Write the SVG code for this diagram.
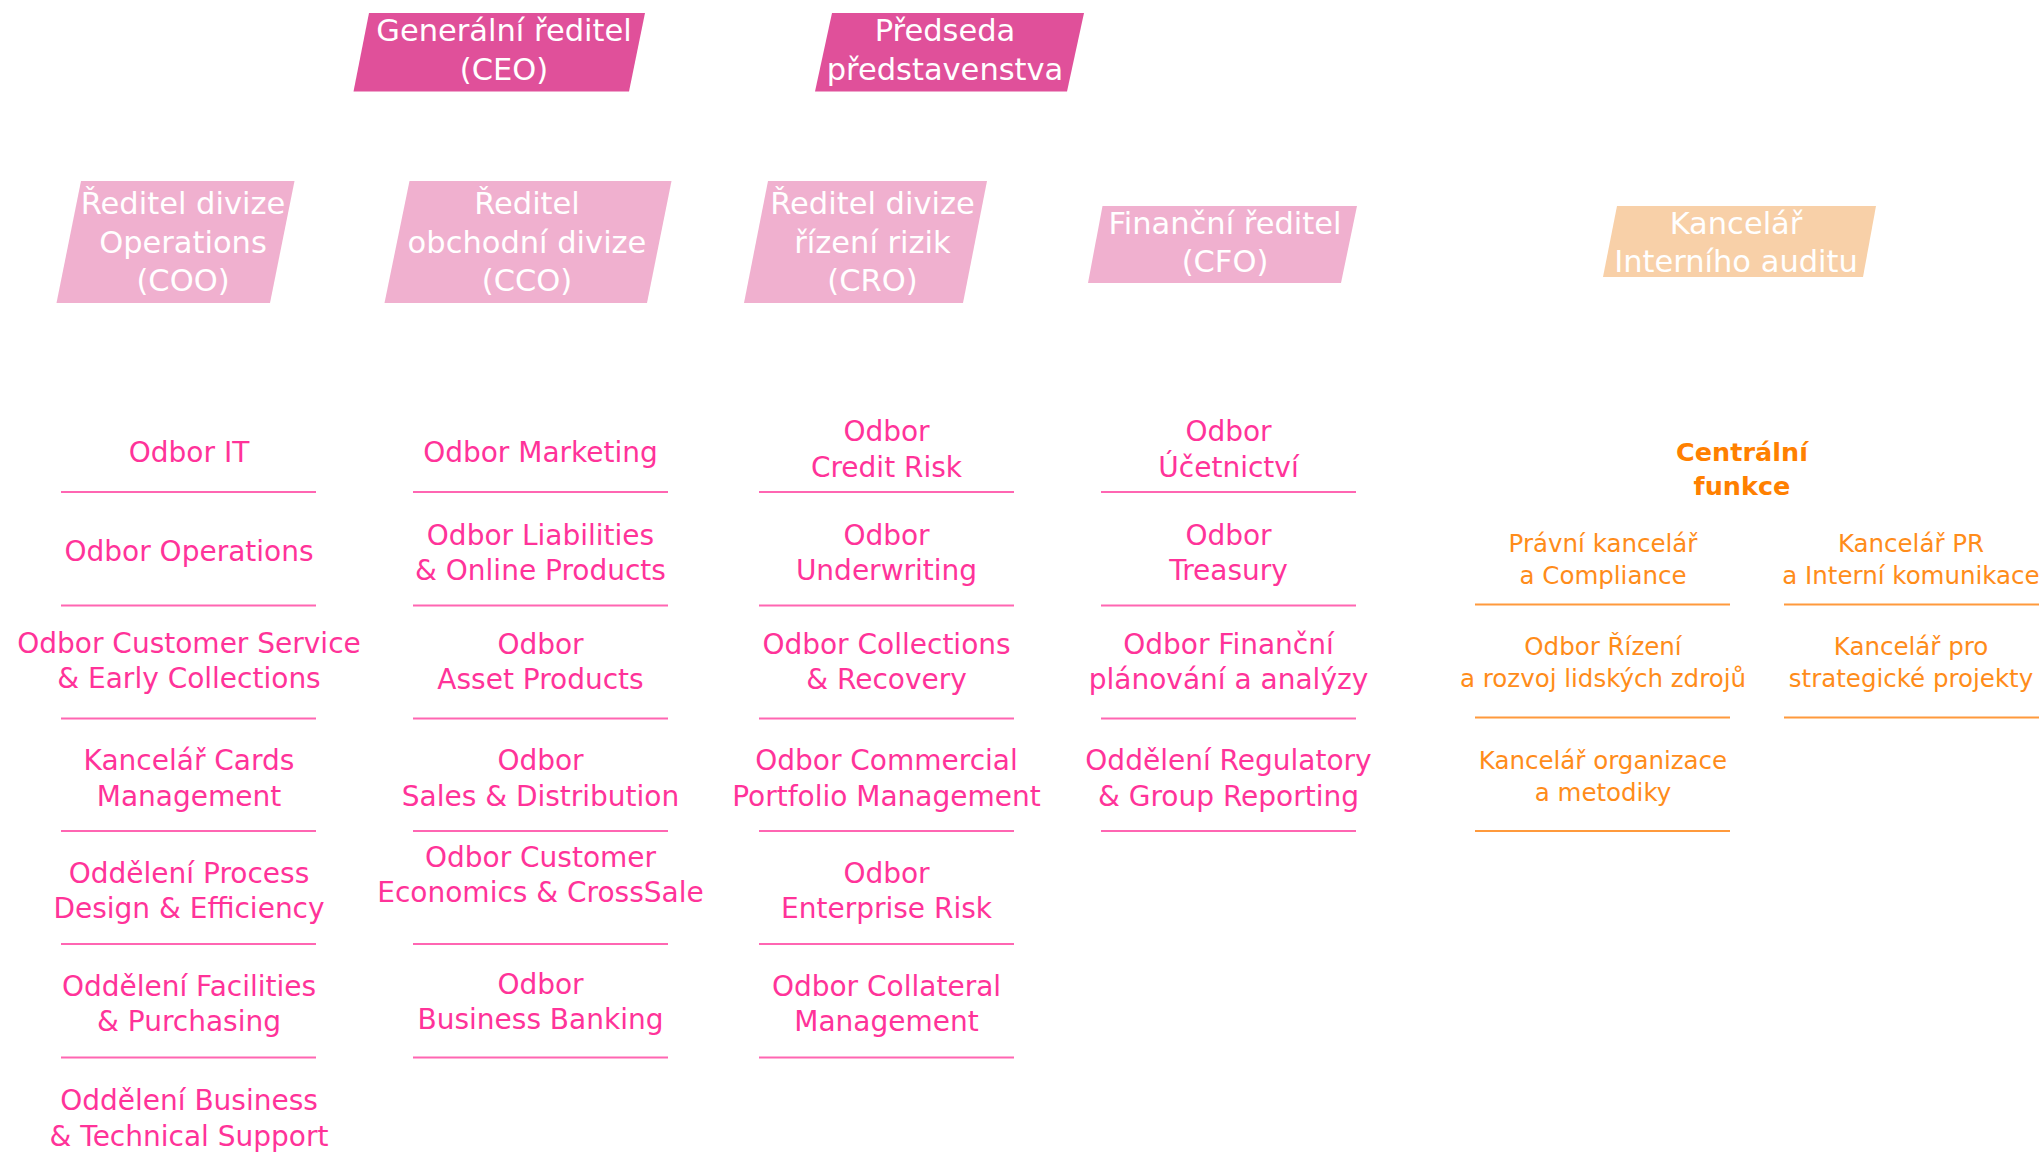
<svg xmlns="http://www.w3.org/2000/svg" width="2042" height="1172" viewBox="0 0 2042 1172">
  <style>
    text { font-family: "DejaVu Sans", "Liberation Sans", sans-serif; text-anchor: middle; }
    .exec { fill: #E0509A; }
    .dir { fill: #F0B0CF; }
    .audit { fill: #F8D0A8; }
    .head { fill: #FFFFFF; font-size: 30.5px; }
    .unit { fill: #FF3399; font-size: 28px; }
    .rule { stroke: #FF66B2; stroke-width: 2.2; fill: none; }
    .cunit { fill: #FF8C1A; font-size: 24.5px; }
    .ctitle { fill: #FF8000; font-size: 25.5px; font-weight: bold; }
    .crule { stroke: #FF9A3C; stroke-width: 2.2; fill: none; }
  </style>
  <rect width="2042" height="1172" fill="#FFFFFF"/>

  <!-- Board level -->
  <g id="ceo">
    <polygon class="exec" points="369,13 645,13 629,91.5 353.5,91.5"/>
    <text class="head" x="504" y="41">Generální ředitel</text>
    <text class="head" x="504" y="80">(CEO)</text>
  </g>
  <g id="chairman">
    <polygon class="exec" points="832,13 1084,13 1067,91.5 815,91.5"/>
    <text class="head" x="945" y="41">Předseda</text>
    <text class="head" x="945" y="80">představenstva</text>
  </g>

  <!-- Division heads -->
  <g id="coo">
    <polygon class="dir" points="81,181 294.5,181 270,303 56.5,303"/>
    <text class="head" x="183" y="214">Ředitel divize</text>
    <text class="head" x="183" y="253">Operations</text>
    <text class="head" x="183" y="291">(COO)</text>
  </g>
  <g id="cco">
    <polygon class="dir" points="409.5,181 671.5,181 647,303 384.5,303"/>
    <text class="head" x="527" y="214">Ředitel</text>
    <text class="head" x="527" y="253">obchodní divize</text>
    <text class="head" x="527" y="291">(CCO)</text>
  </g>
  <g id="cro">
    <polygon class="dir" points="768,181 987,181 963,303 744,303"/>
    <text class="head" x="872.5" y="214">Ředitel divize</text>
    <text class="head" x="872.5" y="253">řízení rizik</text>
    <text class="head" x="872.5" y="291">(CRO)</text>
  </g>
  <g id="cfo">
    <polygon class="dir" points="1102.5,206 1357,206 1341,283 1088,283"/>
    <text class="head" x="1225" y="234">Finanční ředitel</text>
    <text class="head" x="1225" y="272">(CFO)</text>
  </g>
  <g id="internal-audit">
    <polygon class="audit" points="1617,206 1876,206 1863,277 1603,277"/>
    <text class="head" x="1736" y="234">Kancelář</text>
    <text class="head" x="1736" y="272">Interního auditu</text>
  </g>

  <!-- COO units -->
  <g id="coo-it">
    <text class="unit" x="189" y="462">Odbor IT</text>
    <line class="rule" x1="61" y1="492" x2="316" y2="492"/>
  </g>
  <g id="coo-operations">
    <text class="unit" x="189" y="561">Odbor Operations</text>
    <line class="rule" x1="61" y1="605.5" x2="316" y2="605.5"/>
  </g>
  <g id="coo-customer-service">
    <text class="unit" x="189" y="653">Odbor Customer Service</text>
    <text class="unit" x="189" y="688">&amp; Early Collections</text>
    <line class="rule" x1="61" y1="718.5" x2="316" y2="718.5"/>
  </g>
  <g id="coo-cards">
    <text class="unit" x="189" y="770">Kancelář Cards</text>
    <text class="unit" x="189" y="805.5">Management</text>
    <line class="rule" x1="61" y1="831" x2="316" y2="831"/>
  </g>
  <g id="coo-process">
    <text class="unit" x="189" y="882.5">Oddělení Process</text>
    <text class="unit" x="189" y="918">Design &amp; Efficiency</text>
    <line class="rule" x1="61" y1="944" x2="316" y2="944"/>
  </g>
  <g id="coo-facilities">
    <text class="unit" x="189" y="995.5">Oddělení Facilities</text>
    <text class="unit" x="189" y="1030.5">&amp; Purchasing</text>
    <line class="rule" x1="61" y1="1057.5" x2="316" y2="1057.5"/>
  </g>
  <g id="coo-support">
    <text class="unit" x="189" y="1110">Oddělení Business</text>
    <text class="unit" x="189" y="1145.5">&amp; Technical Support</text>
  </g>

  <!-- CCO units -->
  <g id="cco-marketing">
    <text class="unit" x="540.5" y="462">Odbor Marketing</text>
    <line class="rule" x1="413" y1="492" x2="668" y2="492"/>
  </g>
  <g id="cco-liabilities">
    <text class="unit" x="540.5" y="544.5">Odbor Liabilities</text>
    <text class="unit" x="540.5" y="579.5">&amp; Online Products</text>
    <line class="rule" x1="413" y1="605.5" x2="668" y2="605.5"/>
  </g>
  <g id="cco-assets">
    <text class="unit" x="540.5" y="654">Odbor</text>
    <text class="unit" x="540.5" y="689">Asset Products</text>
    <line class="rule" x1="413" y1="718.5" x2="668" y2="718.5"/>
  </g>
  <g id="cco-sales">
    <text class="unit" x="540.5" y="770">Odbor</text>
    <text class="unit" x="540.5" y="805.5">Sales &amp; Distribution</text>
    <line class="rule" x1="413" y1="831" x2="668" y2="831"/>
  </g>
  <g id="cco-economics">
    <text class="unit" x="540.5" y="867">Odbor Customer</text>
    <text class="unit" x="540.5" y="902">Economics &amp; CrossSale</text>
    <line class="rule" x1="413" y1="944" x2="668" y2="944"/>
  </g>
  <g id="cco-business-banking">
    <text class="unit" x="540.5" y="994">Odbor</text>
    <text class="unit" x="540.5" y="1029">Business Banking</text>
    <line class="rule" x1="413" y1="1057.5" x2="668" y2="1057.5"/>
  </g>

  <!-- CRO units -->
  <g id="cro-credit-risk">
    <text class="unit" x="886.5" y="441">Odbor</text>
    <text class="unit" x="886.5" y="476.5">Credit Risk</text>
    <line class="rule" x1="759" y1="492" x2="1014" y2="492"/>
  </g>
  <g id="cro-underwriting">
    <text class="unit" x="886.5" y="544.5">Odbor</text>
    <text class="unit" x="886.5" y="579.5">Underwriting</text>
    <line class="rule" x1="759" y1="605.5" x2="1014" y2="605.5"/>
  </g>
  <g id="cro-collections">
    <text class="unit" x="886.5" y="654">Odbor Collections</text>
    <text class="unit" x="886.5" y="689">&amp; Recovery</text>
    <line class="rule" x1="759" y1="718.5" x2="1014" y2="718.5"/>
  </g>
  <g id="cro-commercial">
    <text class="unit" x="886.5" y="770">Odbor Commercial</text>
    <text class="unit" x="886.5" y="805.5">Portfolio Management</text>
    <line class="rule" x1="759" y1="831" x2="1014" y2="831"/>
  </g>
  <g id="cro-enterprise-risk">
    <text class="unit" x="886.5" y="882.5">Odbor</text>
    <text class="unit" x="886.5" y="918">Enterprise Risk</text>
    <line class="rule" x1="759" y1="944" x2="1014" y2="944"/>
  </g>
  <g id="cro-collateral">
    <text class="unit" x="886.5" y="995.5">Odbor Collateral</text>
    <text class="unit" x="886.5" y="1030.5">Management</text>
    <line class="rule" x1="759" y1="1057.5" x2="1014" y2="1057.5"/>
  </g>

  <!-- CFO units -->
  <g id="cfo-accounting">
    <text class="unit" x="1228.5" y="441">Odbor</text>
    <text class="unit" x="1228.5" y="476.5">Účetnictví</text>
    <line class="rule" x1="1101" y1="492" x2="1356" y2="492"/>
  </g>
  <g id="cfo-treasury">
    <text class="unit" x="1228.5" y="544.5">Odbor</text>
    <text class="unit" x="1228.5" y="579.5">Treasury</text>
    <line class="rule" x1="1101" y1="605.5" x2="1356" y2="605.5"/>
  </g>
  <g id="cfo-planning">
    <text class="unit" x="1228.5" y="654">Odbor Finanční</text>
    <text class="unit" x="1228.5" y="689">plánování a analýzy</text>
    <line class="rule" x1="1101" y1="718.5" x2="1356" y2="718.5"/>
  </g>
  <g id="cfo-regulatory">
    <text class="unit" x="1228.5" y="770">Oddělení Regulatory</text>
    <text class="unit" x="1228.5" y="805.5">&amp; Group Reporting</text>
    <line class="rule" x1="1101" y1="831" x2="1356" y2="831"/>
  </g>

  <!-- Central functions -->
  <g id="central-functions">
    <text class="ctitle" x="1742" y="461">Centrální</text>
    <text class="ctitle" x="1742" y="495">funkce</text>
  </g>
  <g id="legal-compliance">
    <text class="cunit" x="1603" y="551.5">Právní kancelář</text>
    <text class="cunit" x="1603" y="584">a Compliance</text>
    <line class="crule" x1="1475" y1="604.5" x2="1730" y2="604.5"/>
  </g>
  <g id="hr">
    <text class="cunit" x="1603" y="654.5">Odbor Řízení</text>
    <text class="cunit" x="1603" y="686.5">a rozvoj lidských zdrojů</text>
    <line class="crule" x1="1475" y1="717.5" x2="1730" y2="717.5"/>
  </g>
  <g id="organization">
    <text class="cunit" x="1603" y="768.5">Kancelář organizace</text>
    <text class="cunit" x="1603" y="801">a metodiky</text>
    <line class="crule" x1="1475" y1="831" x2="1730" y2="831"/>
  </g>
  <g id="pr">
    <text class="cunit" x="1911" y="551.5">Kancelář PR</text>
    <text class="cunit" x="1911" y="584">a Interní komunikace</text>
    <line class="crule" x1="1784" y1="604.5" x2="2039" y2="604.5"/>
  </g>
  <g id="strategic-projects">
    <text class="cunit" x="1911" y="654.5">Kancelář pro</text>
    <text class="cunit" x="1911" y="686.5">strategické projekty</text>
    <line class="crule" x1="1784" y1="717.5" x2="2039" y2="717.5"/>
  </g>

  <!-- no connectors are drawn between the boxes -->
  <g id="connectors"/>
</svg>
